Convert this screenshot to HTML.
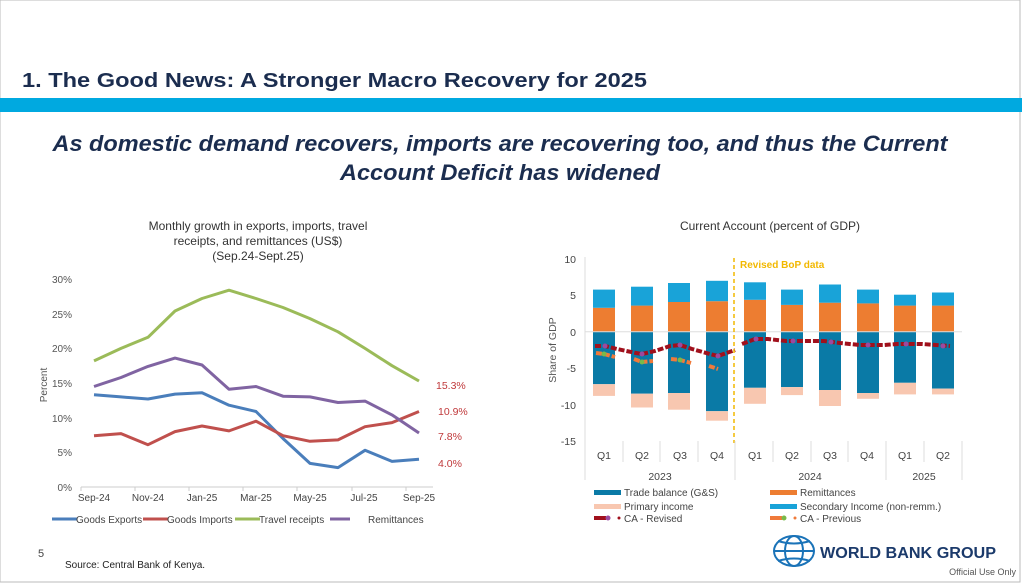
<!DOCTYPE html>
<html><head><meta charset="utf-8"><style>
body{margin:0;background:#fff;}
svg{display:block;font-family:"Liberation Sans",sans-serif;}
</style></head><body>
<svg width="1024" height="585" viewBox="0 0 1024 585">
<rect x="0" y="0" width="1020" height="582" fill="#fff" stroke="#bbb" stroke-width="1"/>
<text x="22" y="87" font-size="20.5" font-weight="bold" fill="#1b2d4f" textLength="625" lengthAdjust="spacingAndGlyphs">1. The Good News: A Stronger Macro Recovery for 2025</text>
<rect x="0" y="98" width="1022" height="14" fill="#00a9e0"/>
<text x="500" y="151" font-size="22" font-weight="bold" font-style="italic" fill="#1b2d4f" text-anchor="middle" textLength="895" lengthAdjust="spacingAndGlyphs">As domestic demand recovers, imports are recovering too, and thus the Current</text>
<text x="500" y="180" font-size="22" font-weight="bold" font-style="italic" fill="#1b2d4f" text-anchor="middle" textLength="320" lengthAdjust="spacingAndGlyphs">Account Deficit has widened</text>

<!-- Left chart -->
<g font-size="12" fill="#333" text-anchor="middle">
<text x="258" y="230">Monthly growth in exports, imports, travel</text>
<text x="258" y="245">receipts, and remittances (US$)</text>
<text x="258" y="260">(Sep.24-Sept.25)</text>
</g>
<g font-size="10" fill="#555" text-anchor="end">
<text x="72" y="283">30%</text><text x="72" y="318">25%</text><text x="72" y="352">20%</text>
<text x="72" y="387">15%</text><text x="72" y="422">10%</text><text x="72" y="456">5%</text><text x="72" y="491">0%</text>
</g>
<text transform="translate(47,385) rotate(-90)" font-size="10" fill="#555" text-anchor="middle">Percent</text>
<line x1="81" y1="487" x2="433" y2="487" stroke="#ccc"/>
<g stroke="#ccc"><line x1="81" y1="487" x2="81" y2="491"/><line x1="135" y1="487" x2="135" y2="491"/><line x1="189" y1="487" x2="189" y2="491"/><line x1="243" y1="487" x2="243" y2="491"/><line x1="297" y1="487" x2="297" y2="491"/><line x1="352" y1="487" x2="352" y2="491"/><line x1="406" y1="487" x2="406" y2="491"/></g>
<g font-size="10" fill="#444" text-anchor="middle">
<text x="94" y="501">Sep-24</text><text x="148" y="501">Nov-24</text><text x="202" y="501">Jan-25</text><text x="256" y="501">Mar-25</text><text x="310" y="501">May-25</text><text x="364" y="501">Jul-25</text><text x="419" y="501">Sep-25</text>
</g>
<g fill="none" stroke-width="3" stroke-linejoin="round">
<polyline stroke="#4a7ebb" points="94,394.8 121,396.9 148,399 175,394.1 202,392.8 229,405.2 256,411.5 283,438.5 310,463.4 338,467.6 365,450.3 392,461.4 419,459.3"/>
<polyline stroke="#c0504d" points="94,435.7 121,433.6 148,444.7 175,431.6 202,426 229,430.9 256,421.2 283,435.7 310,441.3 338,439.9 365,426.7 392,422.6 419,411.5"/>
<polyline stroke="#9bbb59" points="94,360.9 121,348.4 148,337.3 175,311 202,298.5 229,290.2 256,298.5 283,307.5 310,318.6 338,331.8 365,348.4 392,365.7 419,381"/>
<polyline stroke="#8064a2" points="94,386.5 121,377.5 148,366.4 175,358.1 202,365 229,389.3 256,386.5 283,396.2 310,396.9 338,402.5 365,401.1 392,414.9 419,433"/>
</g>
<g font-size="10.5" fill="#c0393b">
<text x="436" y="389">15.3%</text><text x="438" y="415">10.9%</text><text x="438" y="440">7.8%</text><text x="438" y="467">4.0%</text>
</g>
<g font-size="10" fill="#444">
<line x1="52" y1="519" x2="77" y2="519" stroke="#4a7ebb" stroke-width="3"/><text x="76" y="523">Goods Exports</text>
<line x1="143" y1="519" x2="168" y2="519" stroke="#c0504d" stroke-width="3"/><text x="167" y="523">Goods Imports</text>
<line x1="235" y1="519" x2="260" y2="519" stroke="#9bbb59" stroke-width="3"/><text x="259" y="523">Travel receipts</text>
<line x1="330" y1="519" x2="350" y2="519" stroke="#8064a2" stroke-width="3"/><text x="368" y="523">Remittances</text>
</g>

<!-- Right chart -->
<text x="770" y="230" font-size="12" fill="#333" text-anchor="middle">Current Account (percent of GDP)</text>
<g font-size="10.5" fill="#444" text-anchor="end">
<text x="576" y="263">10</text><text x="576" y="299">5</text><text x="576" y="336">0</text><text x="576" y="372">-5</text><text x="576" y="409">-10</text><text x="576" y="445">-15</text>
</g>
<text transform="translate(556,350) rotate(-90)" font-size="10.5" fill="#555" text-anchor="middle">Share of GDP</text>
<line x1="585" y1="257" x2="585" y2="480" stroke="#ddd"/>
<g id="bars"></g>
<g>
<!-- bars: center x, trade, primary end, remit, sec end -->
<rect x="593" y="331.8" width="22" height="52.4" fill="#0a7aa6"/><rect x="593" y="384.2" width="22" height="11.7" fill="#f8c7b0"/><rect x="593" y="307.8" width="22" height="24" fill="#ed7d31"/><rect x="593" y="289.6" width="22" height="18.2" fill="#19a3d8"/>
<rect x="631" y="331.8" width="22" height="61.9" fill="#0a7aa6"/><rect x="631" y="393.7" width="22" height="13.8" fill="#f8c7b0"/><rect x="631" y="305.6" width="22" height="26.2" fill="#ed7d31"/><rect x="631" y="286.7" width="22" height="18.9" fill="#19a3d8"/>
<rect x="668" y="331.8" width="22" height="61.2" fill="#0a7aa6"/><rect x="668" y="393" width="22" height="16.7" fill="#f8c7b0"/><rect x="668" y="302" width="22" height="29.8" fill="#ed7d31"/><rect x="668" y="283" width="22" height="19" fill="#19a3d8"/>
<rect x="706" y="331.8" width="22" height="79.4" fill="#0a7aa6"/><rect x="706" y="411.2" width="22" height="9.5" fill="#f8c7b0"/><rect x="706" y="301.2" width="22" height="30.6" fill="#ed7d31"/><rect x="706" y="280.8" width="22" height="20.4" fill="#19a3d8"/>
<rect x="744" y="331.8" width="22" height="56" fill="#0a7aa6"/><rect x="744" y="387.8" width="22" height="16" fill="#f8c7b0"/><rect x="744" y="299.8" width="22" height="32" fill="#ed7d31"/><rect x="744" y="282.3" width="22" height="17.5" fill="#19a3d8"/>
<rect x="781" y="331.8" width="22" height="55.3" fill="#0a7aa6"/><rect x="781" y="387.1" width="22" height="8" fill="#f8c7b0"/><rect x="781" y="304.9" width="22" height="26.9" fill="#ed7d31"/><rect x="781" y="289.6" width="22" height="15.3" fill="#19a3d8"/>
<rect x="819" y="331.8" width="22" height="58.2" fill="#0a7aa6"/><rect x="819" y="390" width="22" height="16" fill="#f8c7b0"/><rect x="819" y="302.7" width="22" height="29.1" fill="#ed7d31"/><rect x="819" y="284.5" width="22" height="18.2" fill="#19a3d8"/>
<rect x="857" y="331.8" width="22" height="61.2" fill="#0a7aa6"/><rect x="857" y="393" width="22" height="5.8" fill="#f8c7b0"/><rect x="857" y="303.4" width="22" height="28.4" fill="#ed7d31"/><rect x="857" y="289.6" width="22" height="13.8" fill="#19a3d8"/>
<rect x="894" y="331.8" width="22" height="51" fill="#0a7aa6"/><rect x="894" y="382.8" width="22" height="11.6" fill="#f8c7b0"/><rect x="894" y="305.6" width="22" height="26.2" fill="#ed7d31"/><rect x="894" y="294.7" width="22" height="10.9" fill="#19a3d8"/>
<rect x="932" y="331.8" width="22" height="56.8" fill="#0a7aa6"/><rect x="932" y="388.6" width="22" height="5.8" fill="#f8c7b0"/><rect x="932" y="305.6" width="22" height="26.2" fill="#ed7d31"/><rect x="932" y="292.5" width="22" height="13.1" fill="#19a3d8"/>
</g>
<line x1="585" y1="331.8" x2="962" y2="331.8" stroke="#ddd"/>
<g fill="none" stroke-width="4" stroke-dasharray="6,2">
<polyline stroke="#f07a3a" points="596,353 604,354 615,357"/>
<polyline stroke="#f07a3a" points="634,359 642,362 653,361"/>
<polyline stroke="#f07a3a" points="671,359 680,360 691,363"/>
<polyline stroke="#f07a3a" points="709,366 718,369"/>
<polyline stroke="#a0101c" points="595,346 605,346 617,349 636,353 642,354 655,351 670,346 680,345 692,349 710,354 718,356 735,350"/>
<polyline stroke="#a0101c" points="742,344 755,339 768,339 786,341 800,341 824,341 840,343 860,345 870,345 884,345 897,344 910,344 922,344 936,345 950,346"/>
</g>
<g fill="#9a4aa0"><circle cx="605" cy="346" r="2.5"/><circle cx="642" cy="354" r="2.5"/><circle cx="680" cy="345" r="2.5"/><circle cx="718" cy="356" r="2.5"/><circle cx="756" cy="339" r="2.5"/><circle cx="793" cy="341" r="2.5"/><circle cx="831" cy="342" r="2.5"/><circle cx="868" cy="345" r="2.5"/><circle cx="906" cy="344" r="2.5"/><circle cx="943" cy="346" r="2.5"/></g>
<g fill="#79b94a"><circle cx="604" cy="354" r="2.5"/><circle cx="642" cy="362" r="2.5"/><circle cx="680" cy="360" r="2.5"/></g>
<line x1="734" y1="258" x2="734" y2="443" stroke="#f2b800" stroke-width="1.5" stroke-dasharray="4,3"/>
<text x="740" y="268" font-size="10" font-weight="bold" fill="#f2b800">Revised BoP data</text>
<g stroke="#ddd"><line x1="623" y1="441" x2="623" y2="462"/><line x1="660" y1="441" x2="660" y2="462"/><line x1="698" y1="441" x2="698" y2="462"/><line x1="735" y1="441" x2="735" y2="480"/><line x1="773" y1="441" x2="773" y2="462"/><line x1="811" y1="441" x2="811" y2="462"/><line x1="848" y1="441" x2="848" y2="462"/><line x1="886" y1="441" x2="886" y2="480"/><line x1="924" y1="441" x2="924" y2="462"/><line x1="962" y1="441" x2="962" y2="480"/></g>
<g font-size="10.5" fill="#444" text-anchor="middle">
<text x="604" y="459">Q1</text><text x="642" y="459">Q2</text><text x="680" y="459">Q3</text><text x="717" y="459">Q4</text><text x="755" y="459">Q1</text><text x="792" y="459">Q2</text><text x="830" y="459">Q3</text><text x="867" y="459">Q4</text><text x="905" y="459">Q1</text><text x="943" y="459">Q2</text>
<text x="660" y="480">2023</text><text x="810" y="480">2024</text><text x="924" y="480">2025</text>
</g>
<g font-size="10" fill="#444">
<rect x="594" y="490" width="27" height="5" fill="#0a7aa6"/><text x="624" y="496">Trade balance (G&amp;S)</text>
<rect x="770" y="490" width="27" height="5" fill="#ed7d31"/><text x="800" y="496">Remittances</text>
<rect x="594" y="504" width="27" height="5" fill="#f8c7b0"/><text x="624" y="510">Primary income</text>
<rect x="770" y="504" width="27" height="5" fill="#19a3d8"/><text x="800" y="510">Secondary Income (non-remm.)</text>
<line x1="594" y1="518" x2="606" y2="518" stroke="#a0101c" stroke-width="4"/><circle cx="608" cy="518" r="2.5" fill="#9a4aa0"/><circle cx="619" cy="518" r="1.5" fill="#a0101c"/><text x="624" y="522">CA - Revised</text>
<line x1="770" y1="518" x2="782" y2="518" stroke="#f07a3a" stroke-width="4"/><circle cx="784" cy="518" r="2.5" fill="#79b94a"/><circle cx="795" cy="518" r="1.5" fill="#f07a3a"/><text x="800" y="522">CA - Previous</text>
</g>

<!-- footer -->
<text x="38" y="557" font-size="11" fill="#444">5</text>
<text x="65" y="568" font-size="10" fill="#222">Source: Central Bank of Kenya.</text>
<g stroke="#1a73b8" stroke-width="2" fill="none">
<ellipse cx="794" cy="551" rx="20" ry="15"/>
<ellipse cx="794" cy="551" rx="9" ry="15"/>
<line x1="774" y1="551" x2="814" y2="551"/>
<path d="M778 541 Q794 546 810 541"/><path d="M778 561 Q794 556 810 561"/>
</g>
<text x="820" y="558" font-size="15.5" font-weight="bold" fill="#1b3a6b" textLength="176" lengthAdjust="spacingAndGlyphs">WORLD BANK GROUP</text>
<text x="1016" y="575" font-size="9" fill="#555" text-anchor="end">Official Use Only</text>
</svg>
</body></html>
